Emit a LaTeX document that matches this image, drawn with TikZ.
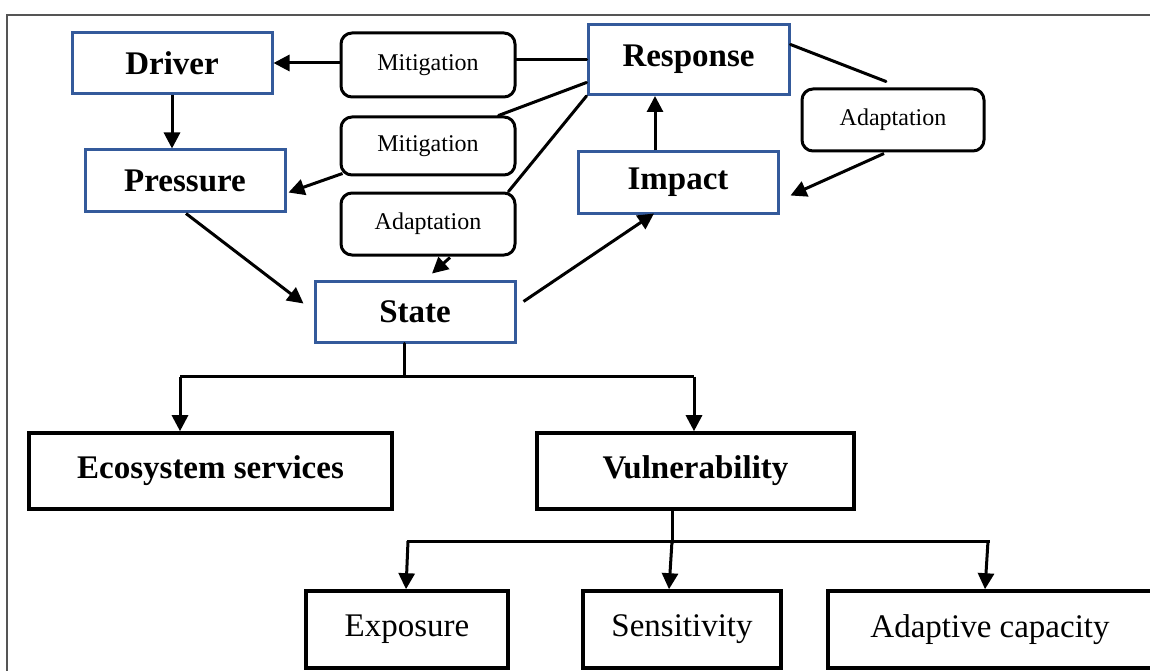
\documentclass[tikz,border=0pt]{standalone}
\usepackage{fontspec}
\setmainfont{Liberation Serif}
\usetikzlibrary{arrows.meta,calc}
\definecolor{boxblue}{RGB}{52,90,155}
\definecolor{framegray}{RGB}{85,85,85}
\tikzset{
  bluebox/.style={draw=boxblue,line width=3pt,fill=white,inner sep=0pt,
    minimum width=200pt,minimum height=61pt,font=\fontsize{33}{36}\selectfont\bfseries},
  softbox/.style={draw=black,line width=3pt,rounded corners=11pt,fill=white,inner sep=0pt,
    minimum width=174pt,font=\fontsize{24}{26}\selectfont},
  blackbox/.style={draw=black,line width=3.6pt,fill=white,inner sep=0pt,minimum height=76pt},
  boldtext/.style={font=\fontsize{33}{36}\selectfont\bfseries},
  plaintext/.style={font=\fontsize{33}{36}\selectfont},
  link/.style={line width=3pt,line cap=round},
  arr/.style={line width=3pt,-{Triangle[length=16pt,width=16pt]}},
}
\begin{document}
\begin{tikzpicture}[x=1pt,y=-1pt]
\clip (0,0) rectangle (1150,671);
\fill[white] (0,0) rectangle (1150,671);
\draw[framegray,line width=1.8pt] (7,15) rectangle (1165,700);

% DPSIR boxes
\node[bluebox] (driver) at (172,63) {Driver};
\node[bluebox] (pressure) at (185,180.5) {Pressure};
\node[bluebox] (state) at (415,311.5) {State};
\node[bluebox,minimum width=201pt,minimum height=70pt] (response) at (688.5,59.5) {Response};
\node[bluebox] (impact) at (678,182.5) {Impact};

% measures
\node[softbox,minimum height=64pt] (mit1) at (428,65) {Mitigation};
\node[softbox,minimum height=58pt] (mit2) at (428,146) {Mitigation};
\node[softbox,minimum height=62pt] (ada1) at (428,224) {Adaptation};
\node[softbox,minimum width=182pt,minimum height=62pt] (ada2) at (893,120) {Adaptation};

% lower boxes
\node[blackbox,minimum width=363pt,boldtext] (eco) at (210.5,471) {Ecosystem services};
\node[blackbox,minimum width=317pt,boldtext] (vul) at (695.5,471) {Vulnerability};
\node[blackbox,minimum width=202pt,minimum height=77pt,plaintext] (expo) at (407,629.5) {Exposure};
\node[blackbox,minimum width=198pt,minimum height=77pt,plaintext] (sens) at (682,629.5) {Sensitivity};
\node[blackbox,minimum width=324pt,minimum height=77pt,plaintext] (adcap) at (990,629.5) {Adaptive capacity};

% DPSIR connectors
\draw[arr] (driver.south) -- (driver.south |- pressure.north);
\draw[arr] ($(pressure.south)+(1,1)$) -- ($(state.west)+(-10,-8)$);
\draw[link] (response.west) -- (mit1.east |- response.west);
\draw[arr] (mit1.west |- driver.east) -- (driver.east);
\draw[link] ($(response.west)+(0,23)$) -- ($(mit2.north east)+(-18,0)$);
\draw[arr] ($(mit2.south west)+(3,-3)$) -- ($(pressure.east)+(2,12)$);
\draw[link] (response.south west) -- ($(ada1.north east)+(-8,0)$);
\draw[arr] ($(ada1.south)+(22,1)$) -- ($(state.north)+(17,-6)$);
\draw[arr] ($(state.east)+(7,-10)$) -- ($(impact.south)+(-24,-1)$);
\coordinate (ir) at ($(impact.north)+(-23,0)$);
\draw[arr] (ir) -- (ir |- response.south);
\draw[link] ($(response.east)+(0,-15)$) -- ($(ada2.north)+(-7,-6)$);
\draw[arr] ($(ada2.south)+(-9,1)$) -- ($(impact.east)+(11,13)$);

% tree from State
\coordinate (s0) at ($(state.south)+(-11,0)$);
\coordinate (s1) at ($(s0)+(0,33)$);
\coordinate (sl) at (eco.north -| 180,0);
\coordinate (sr) at (vul.north -| 694,0);
\draw[link] (s0) -- (s1);
\draw[link,line cap=butt] (s1 -| sl) -- (s1 -| sr);
\draw[arr] (s1 -| sl) -- (sl);
\draw[arr] (s1 -| sr) -- (sr);

% tree from Vulnerability
\coordinate (v0) at (vul.south -| 672,0);
\coordinate (v1) at ($(v0)+(0,32)$);
\draw[link] (v0) -- (v1);
\draw[link,line cap=butt] (407,541) -- (990,541);
\coordinate (e0) at (408,541);
\coordinate (n0) at (672,541);
\coordinate (a0) at (988,541);
\draw[arr] (e0) -- (expo.north -| 406,0);
\draw[arr] (n0) -- (sens.north -| 669,0);
\draw[arr] (a0) -- (adcap.north -| 985,0);
\end{tikzpicture}
\end{document}
